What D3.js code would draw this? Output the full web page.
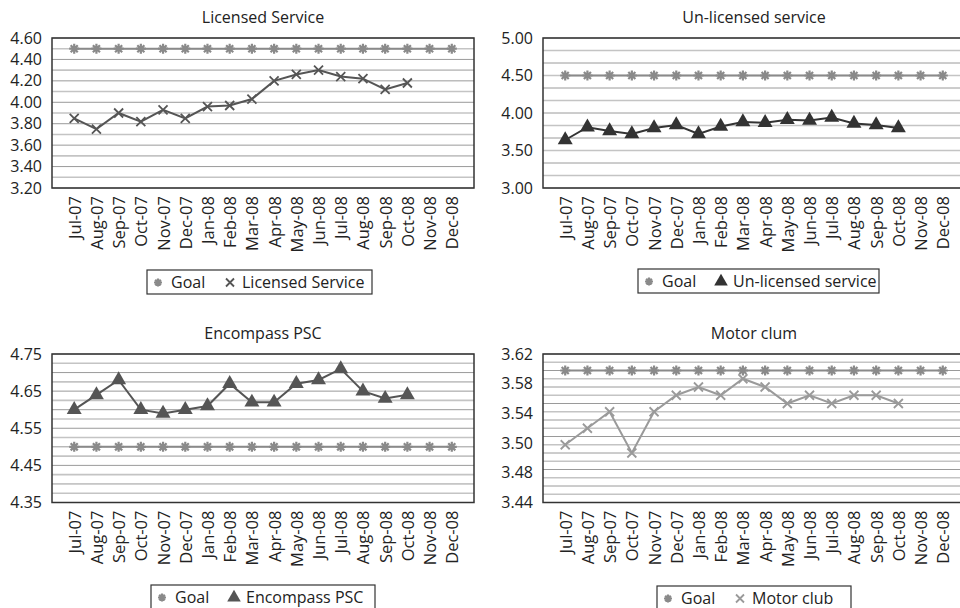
<!DOCTYPE html>
<html>
<head>
<meta charset="utf-8">
<script src="https://cdn.jsdelivr.net/npm/d3@7"></script>
<style>
  body { margin: 0; background: #fff; }
  text { font-family: "Open Sans", sans-serif; fill: #222; }
</style>
</head>
<body>
<script type="text/javascript">
var w = 960;
var h = 608;

// DATA
var months = ["Jul-07","Aug-07","Sep-07","Oct-07","Nov-07","Dec-07","Jan-08","Feb-08","Mar-08","Apr-08",
              "May-08","Jun-08","Jul-08","Aug-08","Sep-08","Oct-08","Nov-08","Dec-08"];

var goalLicensed   = [4.5,4.5,4.5,4.5,4.5,4.5,4.5,4.5,4.5,4.5,4.5,4.5,4.5,4.5,4.5,4.5,4.5,4.5];
var licensed       = [3.85,3.75,3.90,3.82,3.93,3.85,3.96,3.97,4.03,4.20,4.26,4.30,4.24,4.22,4.12,4.18,null,null];

var goalUnlicensed = [4.5,4.5,4.5,4.5,4.5,4.5,4.5,4.5,4.5,4.5,4.5,4.5,4.5,4.5,4.5,4.5,4.5,4.5];
var unlicensed     = [3.64,3.81,3.76,3.72,3.80,3.84,3.72,3.82,3.88,3.87,3.91,3.90,3.94,3.86,3.84,3.80,null,null];

var goalEncompass  = [4.5,4.5,4.5,4.5,4.5,4.5,4.5,4.5,4.5,4.5,4.5,4.5,4.5,4.5,4.5,4.5,4.5,4.5];
var encompass      = [4.60,4.64,4.68,4.60,4.59,4.60,4.61,4.67,4.62,4.62,4.67,4.68,4.71,4.65,4.63,4.64,null,null];

var goalMotor      = [3.6,3.6,3.6,3.6,3.6,3.6,3.6,3.6,3.6,3.6,3.6,3.6,3.6,3.6,3.6,3.6,3.6,3.6];
var motor          = [3.51,3.53,3.55,3.50,3.55,3.57,3.58,3.57,3.59,3.58,3.56,3.57,3.56,3.57,3.57,3.56,null,null];

// tick values + labels
var ticks1 = [3.2,3.4,3.6,3.8,4.0,4.2,4.4,4.6];
var labels1 = ["3.20","3.40","3.60","3.80","4.00","4.20","4.40","4.60"];
var ticks2 = [3.0,3.5,4.0,4.5,5.0];
var labels2 = ["3.00","3.50","4.00","4.50","5.00"];
var ticks3 = [4.35,4.45,4.55,4.65,4.75];
var labels3 = ["4.35","4.45","4.55","4.65","4.75"];
var ticks4 = [3.44,3.476,3.512,3.548,3.584,3.62];
var labels4 = ["3.44","3.48","3.50","3.54","3.58","3.62"];

const svg = d3.select("body").append("svg").attr("width", w).attr("height", h);

// marker paths
function markerPath(type, s) {
  if (type == "star") {
    var p = "";
    for (var i = 0; i < 4; i++) {
      var a = i * Math.PI / 4;
      p += "M" + (-s*Math.cos(a)) + "," + (-s*Math.sin(a)) + "L" + (s*Math.cos(a)) + "," + (s*Math.sin(a));
    }
    return p;
  }
  if (type == "x") {
    return "M" + (-s) + "," + (-s) + "L" + s + "," + s + "M" + (-s) + "," + s + "L" + s + "," + (-s);
  }
  return d3.symbol().type(d3.symbolTriangle).size(s * s * 3.2)();
}

function drawMarker(g, type, x, y, color, s) {
  var m = g.append("path").attr("d", markerPath(type, s)).attr("transform", "translate(" + x + "," + y + ")");
  if (type == "tri") m.attr("fill", color);
  else m.attr("fill", "none").attr("stroke", color).attr("stroke-width", type == "star" ? 2.2 : 1.8);
}

function drawChart(c) {
  var g = svg.append("g");
  var x = d3.scalePoint().domain(months).range([c.left, c.left + 422]).padding(1);
  var y = d3.scaleLinear().domain(c.domain).range([c.bottom, c.top]);

  // gridlines
  var grid = d3.range(c.domain[0], c.domain[1] + 1e-6, c.gridStep);
  g.selectAll(".grid").data(grid).enter().append("line")
    .attr("x1", c.left).attr("x2", c.left + 422)
    .attr("y1", d => y(d)).attr("y2", d => y(d))
    .attr("stroke", (d, i) => i % 2 ? "#c4c4c4" : "#9a9a9a")
    .attr("stroke-width", (d, i) => i % 2 ? 1.6 : 1);

  // frame
  g.append("rect").attr("x", c.left).attr("y", c.top)
    .attr("width", 422).attr("height", c.bottom - c.top)
    .attr("fill", "none").attr("stroke", "#333").attr("stroke-width", 1.5);

  // y axis
  var ya = g.append("g").attr("transform", "translate(" + (c.left - 7) + ",0)")
    .call(d3.axisLeft(y).tickValues(c.ticks).tickSize(0).tickFormat((d, i) => c.labels[i]));
  ya.select(".domain").remove();
  ya.selectAll("text").style("font-family", "Open Sans").style("font-size", "16px").attr("fill", "#222");

  // x axis
  var xa = g.append("g").attr("transform", "translate(0," + c.bottom + ")")
    .call(d3.axisBottom(x).tickSize(0));
  xa.select(".domain").remove();
  xa.selectAll("text").style("font-family", "Open Sans").style("font-size", "16.5px").attr("fill", "#222")
    .attr("text-anchor", "end").attr("transform", "rotate(-90)")
    .attr("x", -8).attr("y", 0).attr("dy", "0.36em");

  // title
  g.append("text").attr("x", c.left + 211).attr("y", c.top - 15)
    .attr("text-anchor", "middle").style("font-size", "16px").text(c.title);

  // goal line
  var line = d3.line().defined(d => d[1] != null).x(d => x(d[0])).y(d => y(d[1]));
  var goalPts = months.map((m, i) => [m, c.goal[i]]);
  g.append("path").attr("d", line(goalPts)).attr("fill", "none").attr("stroke", "#8a8a8a").attr("stroke-width", 2);
  goalPts.forEach(function (p) { drawMarker(g, "star", x(p[0]), y(p[1]), "#8a8a8a", 5); });

  // series line
  var pts = months.map((m, i) => [m, c.values[i]]);
  g.append("path").attr("d", line(pts)).attr("fill", "none").attr("stroke", c.color).attr("stroke-width", 2);
  pts.filter(p => p[1] != null).forEach(function (p) {
    drawMarker(g, c.marker, x(p[0]), y(p[1]), c.color, c.marker == "tri" ? 5.5 : 4.5);
  });

  // legend
  var lg = g.append("g").attr("transform", "translate(" + c.legendX + "," + c.legendY + ")");
  lg.append("rect").attr("x", 0).attr("y", 0).attr("width", c.legendW).attr("height", 24)
    .attr("fill", "#fff").attr("stroke", "#333").attr("stroke-width", 1.2);
  drawMarker(lg, "star", 11, 12.5, "#8a8a8a", 4);
  lg.append("text").attr("x", 24).attr("y", 18).style("font-size", "16px").text("Goal");
  drawMarker(lg, c.marker, 83, 12.5, c.color, c.marker == "tri" ? 5 : 4);
  lg.append("text").attr("x", 95).attr("y", 18).style("font-size", "16px").text(c.name);
}

drawChart({title: "Licensed Service", name: "Licensed Service", left: 52, top: 38, bottom: 188,
  domain: [3.2, 4.6], gridStep: 0.1, ticks: ticks1, labels: labels1,
  goal: goalLicensed, values: licensed, color: "#555", marker: "x",
  legendX: 147, legendY: 270, legendW: 225});

drawChart({title: "Un-licensed service", name: "Un-licensed service", left: 543, top: 38, bottom: 188,
  domain: [3.0, 5.0], gridStep: 1 / 6, ticks: ticks2, labels: labels2,
  goal: goalUnlicensed, values: unlicensed, color: "#333", marker: "tri",
  legendX: 638, legendY: 269, legendW: 241});

drawChart({title: "Encompass PSC", name: "Encompass PSC", left: 52, top: 354, bottom: 502.5,
  domain: [4.35, 4.75], gridStep: 0.025, ticks: ticks3, labels: labels3,
  goal: goalEncompass, values: encompass, color: "#555", marker: "tri",
  legendX: 151, legendY: 585, legendW: 224});

drawChart({title: "Motor clum", name: "Motor club", left: 543, top: 354, bottom: 502.5,
  domain: [3.44, 3.62], gridStep: 0.01, ticks: ticks4, labels: labels4,
  goal: goalMotor, values: motor, color: "#9a9a9a", marker: "x",
  legendX: 657, legendY: 586, legendW: 194});
</script>
</body>
</html>
